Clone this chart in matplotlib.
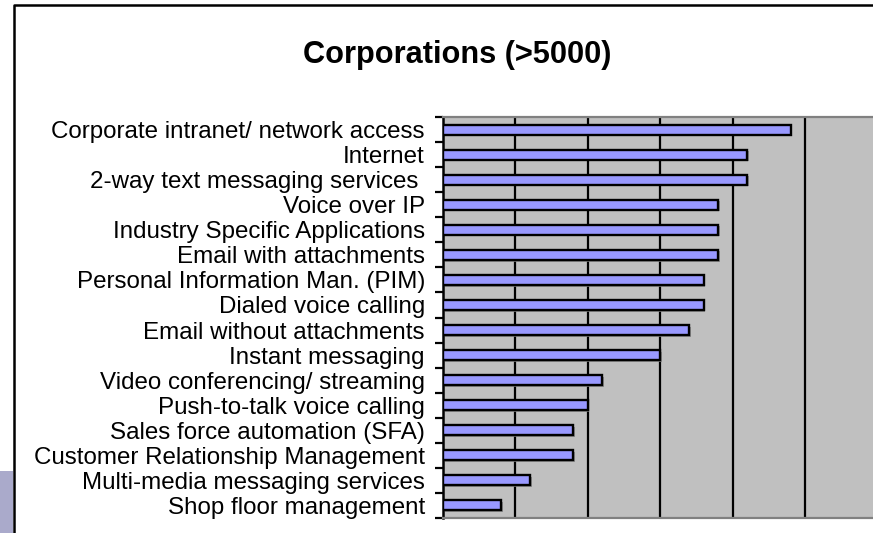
import matplotlib
matplotlib.use("Agg")
import matplotlib.pyplot as plt
import matplotlib.patheffects as pe
from matplotlib.lines import Line2D
from matplotlib.patches import Rectangle
from matplotlib import font_manager
import numpy as np

title = "Corporations (>5000)"
categories = [
    "Corporate intranet/ network access",
    "Internet",
    "2-way text messaging services ",
    "Voice over IP",
    "Industry Specific Applications",
    "Email with attachments",
    "Personal Information Man. (PIM)",
    "Dialed voice calling",
    "Email without attachments",
    "Instant messaging",
    "Video conferencing/ streaming",
    "Push-to-talk voice calling",
    "Sales force automation (SFA)",
    "Customer Relationship Management",
    "Multi-media messaging services",
    "Shop floor management",
]
values = [48, 42, 42, 38, 38, 38, 36, 36, 34, 30, 22, 20, 18, 18, 12, 8]
grid_ticks = [10, 20, 30, 40, 50, 60]

names = {f.name for f in font_manager.fontManager.ttflist}
fam = "Liberation Sans Narrow" if "Liberation Sans Narrow" in names else "Liberation Sans"

W, H = 873, 533
fig = plt.figure(figsize=(W / 100, H / 100), dpi=100)
fig.patch.set_facecolor("white")
plt.rcParams['font.family'] = [fam, 'DejaVu Sans']

px = 7.24  # pixels per unit
ax_left, ax_top, ax_bottom = 443, 117, 518
ax = fig.add_axes([ax_left / W, 1 - ax_bottom / H, 70 * px / W, (ax_bottom - ax_top) / H])
ax.set_facecolor("#C0C0C0")

n = len(categories)
y = np.arange(n)
bars = ax.barh(y, values, height=0.4, color="#9999FF", edgecolor="black", linewidth=1.7, zorder=3)
for b in bars:
    b.set_path_effects([pe.SimplePatchShadow(offset=(1.2, -1.2), shadow_rgbFace="#808080", alpha=0.8), pe.Normal()])

ax.set_xlim(0, 70)
ax.set_ylim(n - 0.5, -0.5)
ax.set_xticks(grid_ticks)
ax.tick_params(axis="x", length=0, labelbottom=False)
ax.grid(axis="x", color="black", linewidth=1.6, zorder=1)
ax.set_axisbelow(True)

ax.set_yticks(np.arange(-0.5, n, 1.0))
ax.set_yticklabels([])
ax.tick_params(axis="y", which="major", length=6, width=1.6, color="black")
ax.set_yticks(y, minor=True)
ax.set_yticklabels(categories, minor=True, family=[fam, 'DejaVu Sans'])
ax.tick_params(axis="y", which="minor", length=0, pad=13, labelsize=15.5)

for s in ["top", "bottom"]:
    ax.spines[s].set_color("#808080")
    ax.spines[s].set_linewidth(1.6)
ax.spines["right"].set_visible(False)
ax.spines["left"].set_color("black")
ax.spines["left"].set_linewidth(1.8)

ttl = fig.text(457 / W, 1 - 63 / H, title, ha="center", va="baseline", fontsize=18,
               fontweight="bold", family=[fam, 'DejaVu Sans'])

fig.canvas.draw()
r = fig.canvas.get_renderer()
longest = [t for t in ax.get_yticklabels(minor=True) if t.get_text() == categories[0]][0]
wl = longest.get_window_extent(r).width
s = 373 / wl
for t in ax.get_yticklabels(minor=True):
    t.set_fontsize(t.get_fontsize() * s)
wt = ttl.get_window_extent(r).width
ttl.set_fontsize(ttl.get_fontsize() * 309 / wt)

fig.add_artist(Line2D([14 / W, 14 / W, 1.05], [-0.05, 1 - 5 / H, 1 - 5 / H],
                      transform=fig.transFigure, color="black", linewidth=1.8))
fig.add_artist(Rectangle((0, 0), 13 / W, (H - 471) / H, transform=fig.transFigure,
                         facecolor="#AAAACB", edgecolor="none"))

fig.savefig("out.png", dpi=100)
